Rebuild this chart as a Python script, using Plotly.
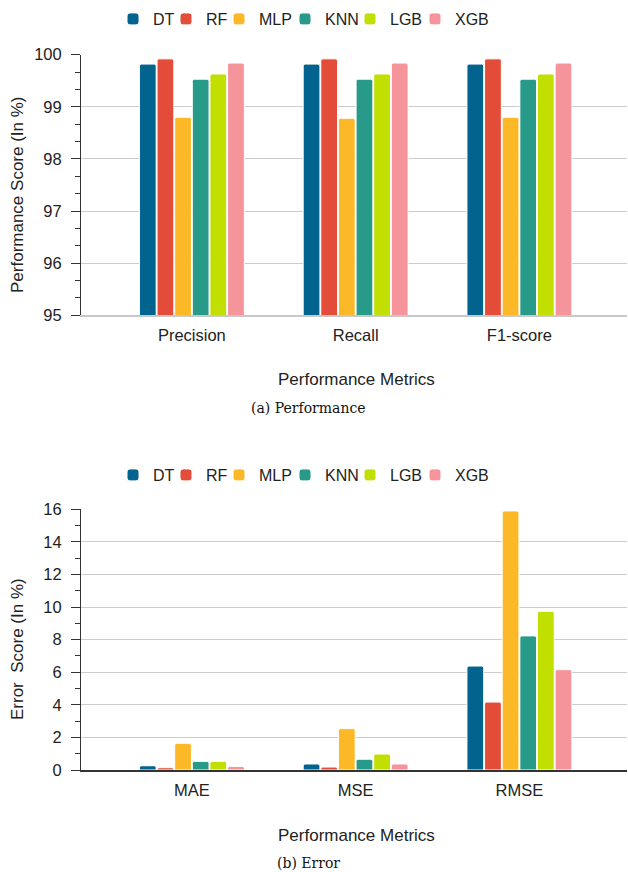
import plotly.graph_objects as go

# ---------------- data ----------------
models = ["DT", "RF", "MLP", "KNN", "LGB", "XGB"]
perf_metrics = ["Precision", "Recall", "F1-score"]
err_metrics = ["MAE", "MSE", "RMSE"]

perf_dt = [99.82, 99.82, 99.82]
perf_rf = [99.92, 99.92, 99.92]
perf_mlp = [98.80, 98.78, 98.80]
perf_knn = [99.53, 99.53, 99.53]
perf_lgb = [99.63, 99.63, 99.63]
perf_xgb = [99.84, 99.84, 99.84]

err_dt = [0.26, 0.37, 6.38]
err_rf = [0.14, 0.18, 4.17]
err_mlp = [1.64, 2.54, 15.90]
err_knn = [0.53, 0.66, 8.23]
err_lgb = [0.53, 0.98, 9.74]
err_xgb = [0.22, 0.37, 6.16]

perf_ticks = [95, 96, 97, 98, 99, 100]
err_ticks = [0, 2, 4, 6, 8, 10, 12, 14, 16]

# ---------------- styling / layout ----------------
colors = ["#02638f", "#e34c38", "#fdb827", "#289a8a", "#c1df00", "#f5959b"]
legend_text_px = [149, 202, 255, 321, 386, 451]   # where each legend label starts
W, H = 628, 872
FONT = "Liberation Sans, Arial, sans-serif"
perf_series = [perf_dt, perf_rf, perf_mlp, perf_knn, perf_lgb, perf_xgb]
err_series = [err_dt, err_rf, err_mlp, err_knn, err_lgb, err_xgb]


def py(px):
    return 1 - px / H


def px_(px):
    return px / W


fig = go.Figure()
legend_layout = {}
n = len(models)
for i, (name, col, vals) in enumerate(zip(models, colors, perf_series)):
    lid = "legend" if i == 0 else f"legend{i + 1}"
    fig.add_trace(go.Bar(
        x=perf_metrics, y=vals, name=name, marker_color=col,
        marker_line_color="white", marker_line_width=1, marker_cornerradius=2,
        xaxis="x", yaxis="y", legend=lid, showlegend=True))
    legend_layout[lid] = dict(x=px_(legend_text_px[i] - 36), y=py(19))
for i, (name, col, vals) in enumerate(zip(models, colors, err_series)):
    lid = f"legend{n + i + 1}"
    fig.add_trace(go.Bar(
        x=err_metrics, y=vals, name=name, marker_color=col,
        marker_line_color="white", marker_line_width=1, marker_cornerradius=2,
        xaxis="x2", yaxis="y2", legend=lid, showlegend=True))
    legend_layout[lid] = dict(x=px_(legend_text_px[i] - 36), y=py(475))

for lid, pos in legend_layout.items():
    legend_layout[lid] = dict(
        orientation="h", xanchor="left", yanchor="middle", visible=True,
        font=dict(family=FONT, size=16, color="#222222"),
        bgcolor="rgba(0,0,0,0)", borderwidth=0, **pos)

xdom = [px_(81), px_(627)]
xrange_ = [-0.677, 2.657]
tickfont = dict(family=FONT, size=16.5, color="#222222")

common_y = dict(
    showgrid=True, gridcolor="#cccccc", gridwidth=1,
    showline=True, linecolor="#333333", linewidth=1,
    ticks="outside", ticklen=9, tickcolor="#333333", tickwidth=1,
    tickfont=tickfont, zeroline=False, ticklabelstandoff=6,
)

fig.update_layout(
    width=W, height=H,
    showlegend=True,
    margin=dict(l=0, r=0, t=0, b=0, autoexpand=False),
    paper_bgcolor="white", plot_bgcolor="white",
    barmode="group", bargap=0.354, bargroupgap=0.05,
    font=dict(family=FONT, size=16, color="#222222"),
    xaxis=dict(domain=xdom, range=xrange_, anchor="y", showline=True,
               linecolor="#c8c8c8", linewidth=1.5, ticks="outside",
               ticklen=4, tickcolor="rgba(0,0,0,0)", tickfont=tickfont,
               showgrid=False, zeroline=False),
    yaxis=dict(domain=[py(315.3), py(54.7)], range=[95, 100],
               tickvals=perf_ticks,
               minor=dict(dtick=1 / 3, tick0=95, ticks="outside", ticklen=5,
                          tickcolor="#333333", showgrid=False),
               anchor="x", **common_y),
    xaxis2=dict(domain=xdom, range=xrange_, anchor="y2", showline=True,
                linecolor="#333333", linewidth=1.5, ticks="outside",
                ticklen=4, tickcolor="rgba(0,0,0,0)", tickfont=tickfont,
                showgrid=False, zeroline=False),
    yaxis2=dict(domain=[py(770), py(509.3)], range=[0, 16],
                tickvals=err_ticks,
                minor=dict(dtick=1, tick0=0, ticks="outside", ticklen=5,
                           tickcolor="#333333", showgrid=False),
                anchor="x2", **common_y),
    **legend_layout,
)

annots = [
    dict(text="Performance Score (In %)", x=px_(17), y=py(195), textangle=-90),
    dict(text="Error  Score (In %)", x=px_(17), y=py(649), textangle=-90),
    dict(text="Performance Metrics", x=px_(356), y=py(380)),
    dict(text="Performance Metrics", x=px_(356), y=py(835)),
]
for a in annots:
    fig.add_annotation(xref="paper", yref="paper", showarrow=False,
                       xanchor="center", yanchor="middle",
                       font=dict(family=FONT, size=17, color="#222222"), **a)

for txt, yy in [("(a) Performance", 408), ("(b) Error", 863)]:
    fig.add_annotation(text=txt, xref="paper", yref="paper", x=px_(308), y=py(yy),
                       showarrow=False, xanchor="center", yanchor="middle",
                       font=dict(family="DejaVu Serif, serif", size=14, color="#111111"))

# remove the browser's default 8px page margin so the figure fills the window
fig.write_html(
    "out.html",
    config={"displayModeBar": False},
    post_script="document.body.style.margin='0';document.body.style.overflow='hidden';",
)
